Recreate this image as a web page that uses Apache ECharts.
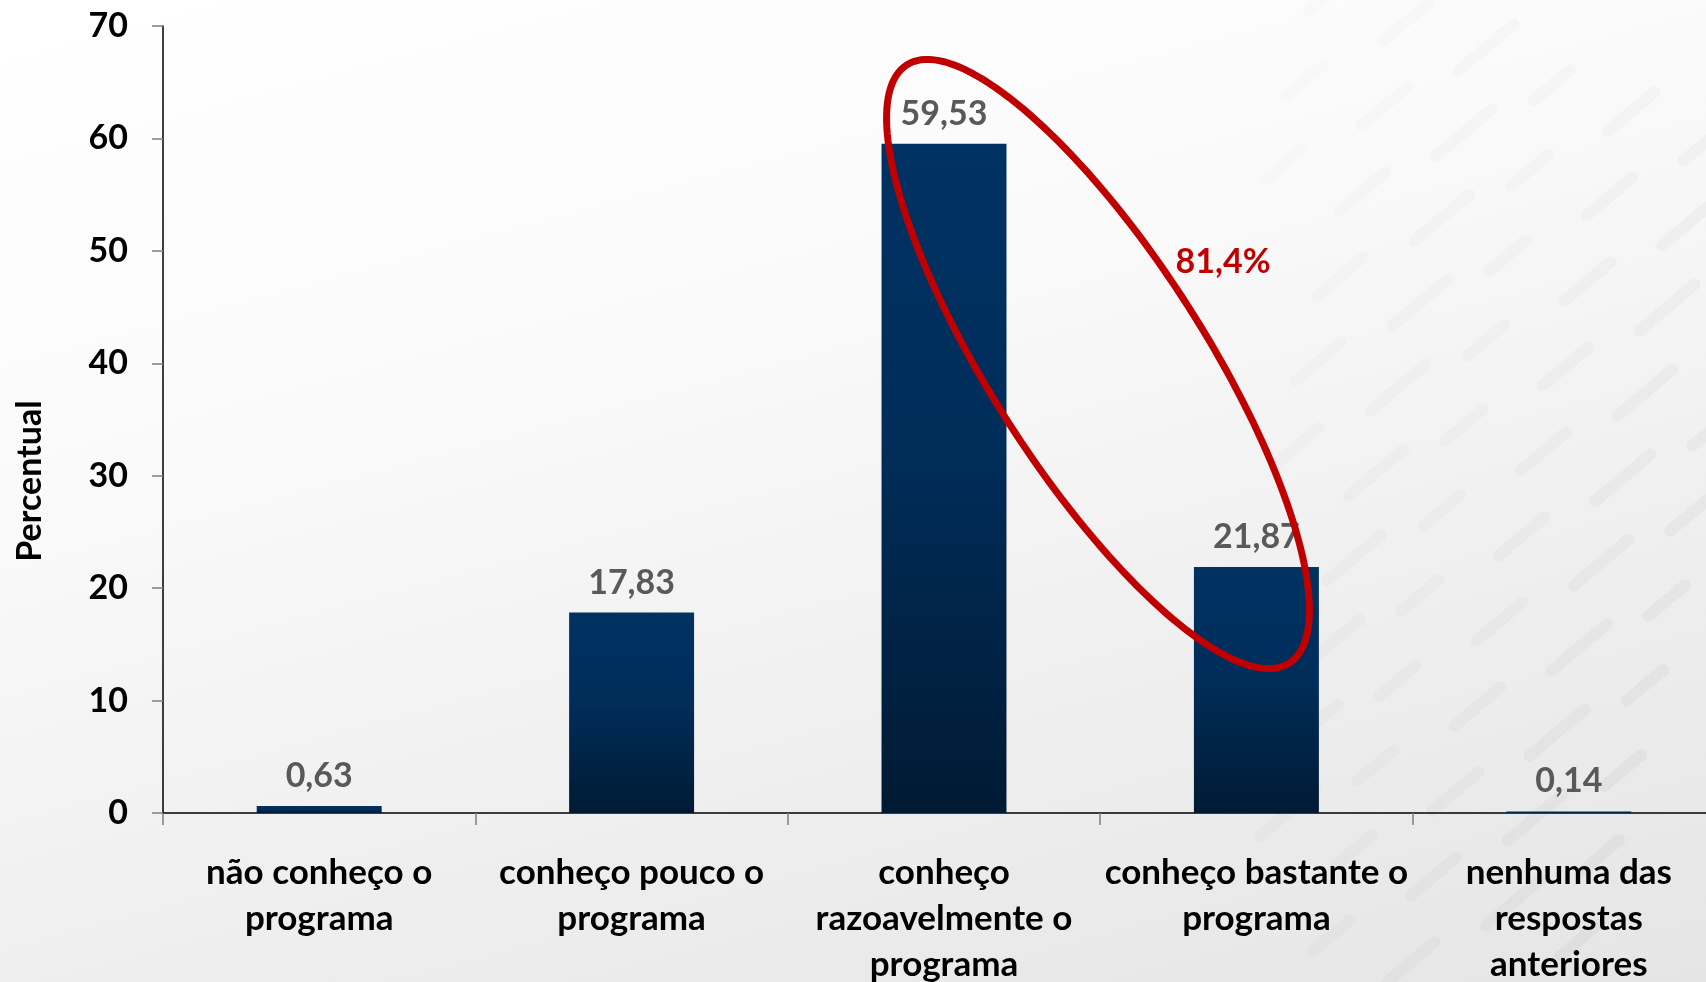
<!DOCTYPE html>
<html>
<head>
<meta charset="utf-8">
<script src="https://cdn.jsdelivr.net/npm/echarts@6/dist/echarts.min.js"></script>
<style>
  html, body { margin: 0; padding: 0; overflow: hidden; }
  #grafico {
    width: 1706px; height: 982px;
    background: linear-gradient(165deg, #ffffff 0%, #fafafa 35%, #eeeeee 70%, #e5e5e5 100%);
  }
</style>
</head>
<body>
<div id="grafico"></div>
<script>
  // dados do grafico
  var categorias = [
    'não conheço o\nprograma',
    'conheço pouco o\nprograma',
    'conheço\nrazoavelmente o\nprograma',
    'conheço bastante o\nprograma',
    'nenhuma das\nrespostas\nanteriores'
  ];
  var percentuais = [0.63, 17.83, 59.53, 21.87, 0.14];
  var eixoY = { min: 0, max: 70, intervalo: 10 };
  var destaque = '81,4%';

  var fonte = 'Lato, "Open Sans", sans-serif';

  // elipse vermelha (anotacao em pixels)
  function pontosElipse(cx, cy, a, b, ang) {
    var pts = [];
    var c = Math.cos(ang), s = Math.sin(ang);
    for (var i = 0; i < 180; i++) {
      var t = i / 180 * Math.PI * 2;
      pts.push([cx + a * Math.cos(t) * c - b * Math.sin(t) * s,
                cy + a * Math.cos(t) * s + b * Math.sin(t) * c]);
    }
    return pts;
  }

  // textura de fundo (predio) no lado direito, so decoracao
  function texturaFundo() {
    var els = [];
    for (var i = 0; i < 7; i++) {
      for (var j = 0; j < 12; j++) {
        var x = 1300 + i * 75 - j * 22;
        var y = 10 + j * 85 + i * 30;
        if (x < 1250 || x > 1720 || y > 990) continue;
        els.push({
          type: 'rect', x: x, y: y, rotation: Math.PI / 4.5,
          shape: { x: 0, y: 0, width: 60 + (i % 3) * 12, height: 12, r: 6 },
          style: { fill: '#000', opacity: 0.012 + i * 0.003 }, silent: true, z: -10
        });
      }
    }
    return els;
  }

  var myChart = echarts.init(document.getElementById('grafico'));
  myChart.setOption({
    backgroundColor: 'transparent',
    animation: false,
    grid: { left: 163, top: 26, width: 1562, height: 787, containLabel: false, outerBoundsMode: 'none' },
    xAxis: {
      type: 'category',
      data: categorias,
      axisLine: { lineStyle: { color: '#000', width: 1.5 } },
      axisTick: { show: true, length: 12, lineStyle: { color: '#7f7f7f', width: 1.5 } },
      axisLabel: {
        interval: 0, margin: 37, color: '#000', fontFamily: fonte,
        fontWeight: 'bold', fontSize: 35, lineHeight: 46, align: 'center'
      }
    },
    yAxis: {
      type: 'value',
      min: eixoY.min, max: eixoY.max, interval: eixoY.intervalo,
      splitLine: { show: false },
      axisLine: { show: true, lineStyle: { color: '#000', width: 1.5 } },
      axisTick: { show: true, length: 11, lineStyle: { color: '#7f7f7f', width: 1.5 } },
      axisLabel: { margin: 35, color: '#000', fontFamily: fonte, fontWeight: 'bold', fontSize: 34 }
    },
    series: [{
      type: 'bar',
      data: percentuais,
      barWidth: '40%',
      itemStyle: {
        color: new echarts.graphic.LinearGradient(0, 0, 0, 1, [
          { offset: 0, color: '#003262' },
          { offset: 0.45, color: '#002d5a' },
          { offset: 1, color: '#001a33' }
        ])
      },
      label: {
        show: true, position: 'top', distance: 12,
        color: '#595959', fontFamily: fonte, fontWeight: 'bold', fontSize: 34, lineHeight: 36,
        formatter: function (p) { return String(p.value).replace('.', ','); }
      }
    }],
    graphic: texturaFundo().concat([
      {
        type: 'text', x: 30, y: 481, rotation: Math.PI / 2,
        style: {
          text: 'Percentual', fill: '#000', font: 'bold 34px ' + fonte,
          textAlign: 'center', textVerticalAlign: 'middle'
        }
      },
      {
        type: 'polygon', z: 100,
        shape: { points: pontosElipse(1098, 364, 355, 107, 57.4 * Math.PI / 180) },
        style: { fill: 'none', stroke: '#c00000', lineWidth: 7 }
      },
      {
        type: 'text', x: 1223, y: 262, z: 101,
        style: {
          text: destaque, fill: '#c00000', font: 'bold 34px ' + fonte,
          textAlign: 'center', textVerticalAlign: 'middle'
        }
      }
    ])
  });
</script>
</body>
</html>
